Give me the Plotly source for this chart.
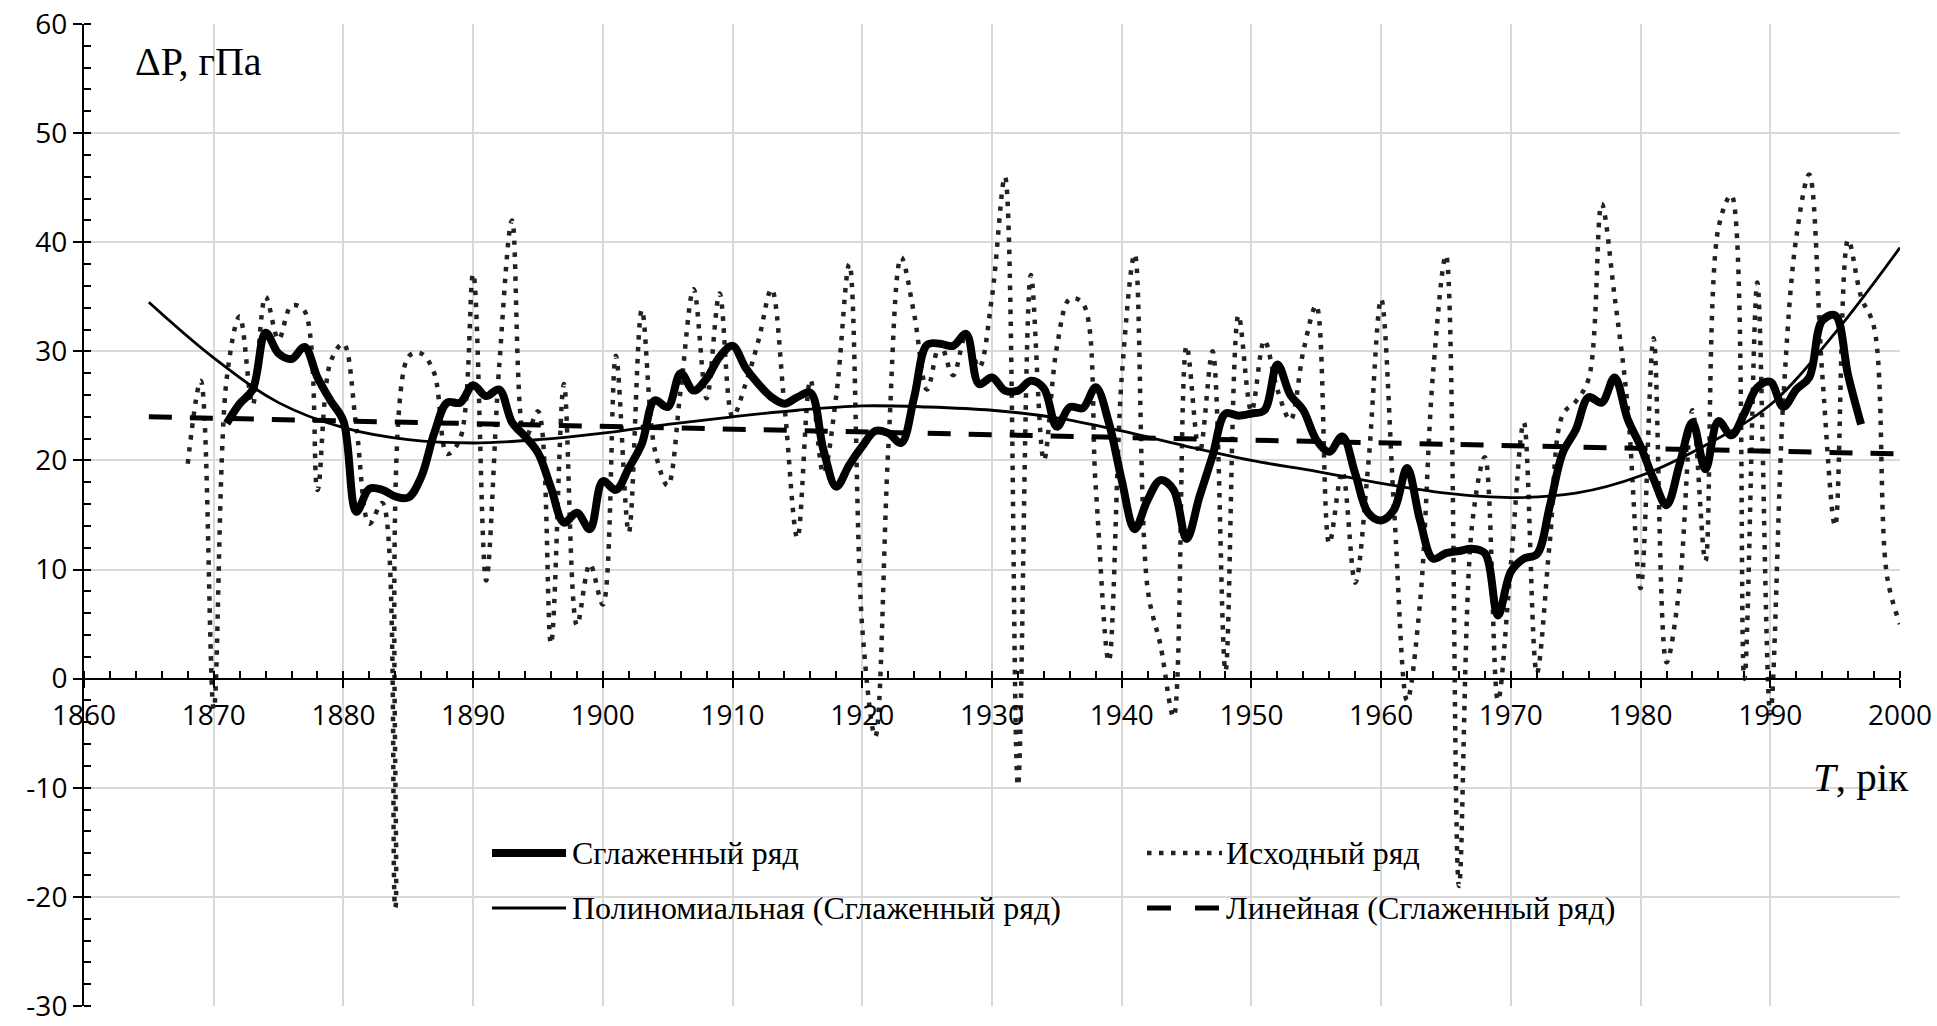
import plotly.graph_objects as go

# ---------------- data ----------------
raw_years = list(range(1868, 2001))
raw_values = [
    19.7, 27.3, -2.8, 27.5, 33.2, 25.1, 35.0, 31.1, 34.2, 33.7,   # 1868-1877
    17.3, 29.0, 30.7, 23.0, 14.2, 16.1, -21.0, 29.5, 29.8, 28.0,  # 1878-1887
    20.6, 22.0, 37.1, 9.0, 28.5, 42.0, 22.0, 24.5, 3.2, 27.0,     # 1888-1897
    4.9, 10.5, 6.8, 29.6, 13.4, 33.8, 21.0, 17.7, 26.5, 35.7,     # 1898-1907
    25.7, 35.3, 24.0, 27.0, 31.0, 35.7, 25.0, 12.9, 27.4, 18.8,   # 1908-1917
    26.0, 38.0, 4.6, -5.3, 21.0, 38.6, 33.4, 26.5, 30.7, 27.8,    # 1918-1927
    31.5, 28.5, 35.0, 46.0, -9.8, 37.0, 20.0, 30.4, 34.8, 34.4,   # 1928-1937
    17.5, 1.6, 27.6, 38.9, 8.2, 3.0, -3.5, 30.5, 20.7, 30.0,      # 1938-1947
    0.7, 33.3, 24.5, 31.0, 26.5, 23.7, 30.0, 34.2, 12.4, 19.0,    # 1948-1957
    8.8, 19.5, 34.8, 15.5, -2.0, 7.0, 28.0, 38.8, -19.0, 14.0,    # 1958-1967
    20.3, -2.0, 10.5, 23.5, 0.5, 12.5, 24.2, 25.4, 27.5, 43.5,    # 1968-1977
    35.0, 25.0, 8.3, 31.2, 1.5, 8.4, 24.6, 10.8, 41.3, 44.3,      # 1978-1987
    0.0, 36.3, -3.2, 25.5, 40.4, 46.2, 28.0, 14.0, 40.2, 35.0,    # 1988-1997
    32.2, 9.4, 5.0,                                               # 1998-2000
]

smooth_years = list(range(1871, 1998))
smooth_values = [
    23.4, 25.2, 26.5, 31.7, 29.8, 29.3, 30.4, 27.6, 25.5, 23.6,   # 1871-1880
    15.3, 17.4, 17.3, 16.7, 16.6, 18.5, 22.5, 25.3, 25.3, 26.9,   # 1881-1890
    25.9, 26.5, 23.5, 22.2, 20.7, 17.5, 14.3, 15.2, 13.7, 18.1,   # 1891-1900
    17.3, 19.3, 21.5, 25.5, 24.9, 28.0, 26.4, 27.5, 29.5, 30.5,   # 1901-1910
    28.5, 27.0, 25.8, 25.2, 25.8, 26.2, 21.0, 17.6, 19.6, 21.3,   # 1911-1920
    22.7, 22.5, 21.6, 25.8, 30.6, 30.7, 30.5, 31.6, 27.0, 27.6,   # 1921-1930
    26.4, 26.4, 27.3, 26.6, 23.1, 24.9, 24.8, 26.7, 23.5, 18.2,   # 1931-1940
    13.7, 16.4, 18.2, 17.3, 12.8, 16.7, 20.4, 24.3, 24.1, 24.3,   # 1941-1950
    24.6, 28.8, 26.0, 24.6, 21.9, 20.8, 22.2, 18.8, 15.2, 14.5,   # 1951-1960
    15.5, 19.3, 14.5, 11.0, 11.5, 11.7, 11.9, 11.5, 5.8, 9.8,     # 1961-1970
    11.0, 11.4, 15.8, 20.7, 22.8, 25.8, 25.3, 27.6, 23.8, 21.3,   # 1971-1980
    18.3, 15.9, 19.6, 23.5, 19.2, 23.6, 22.3, 24.3, 26.7, 27.2,   # 1981-1990
    24.9, 26.5, 27.6, 32.8, 33.3, 27.8, 23.3,                     # 1991-1997
]

poly_years = list(range(1865, 2001, 5))
poly_values = [
    34.5, 29.4, 25.3, 23.0, 21.9, 21.6, 21.9, 22.5, 23.3, 24.0,
    24.6, 25.0, 24.9, 24.6, 23.9, 22.7, 21.3, 20.0, 19.0, 17.9,
    17.0, 16.6, 17.0, 18.6, 21.4, 25.1, 31.7, 39.5,
]

lin_years = [1865, 2000]
lin_values = [24.0, 20.6]

x_ticks = list(range(1860, 2001, 10))
y_ticks = list(range(-30, 61, 10))
y_ticktext = [str(v) for v in y_ticks]   # plain hyphen-minus, as in the original

names = ["Сглаженный ряд", "Исходный ряд",
         "Полиномиальная (Сглаженный ряд)", "Линейная (Сглаженный ряд)"]
y_title = "ΔP, гПа"
x_title = "<i>T</i>, рік"

# ---------------- styles ----------------
W, H = 1937, 1026
L, R, T, B = 84, 37, 24, 20
SERIF = "Liberation Serif, Times New Roman, serif"
SANS = "Open Sans, Liberation Sans, sans-serif"

st_smooth = dict(color="black", width=8)
st_raw = dict(color="#222222", width=4.5, dash="4.5px,7.5px")
st_poly = dict(color="black", width=2.8)
st_lin = dict(color="black", width=5, dash="23px,18px")

fig = go.Figure()
fig.add_trace(go.Scatter(x=raw_years, y=raw_values, mode="lines", name=names[1],
                         line=dict(shape="spline", **st_raw)))
fig.add_trace(go.Scatter(x=lin_years, y=lin_values, mode="lines", name=names[3],
                         line=st_lin))
fig.add_trace(go.Scatter(x=poly_years, y=poly_values, mode="lines", name=names[2],
                         line=dict(shape="spline", **st_poly)))
fig.add_trace(go.Scatter(x=smooth_years, y=smooth_values, mode="lines", name=names[0],
                         line=dict(shape="spline", **st_smooth)))

pw, ph = W - L - R, H - T - B


def px(xp):
    return (xp - L) / pw


def py(yp):
    return (H - B - yp) / ph


# manual legend (two columns)
legend_items = [
    (names[0], st_smooth, 492, 566, 853),
    (names[1], st_raw, 1147, 1222, 853),
    (names[2], st_poly, 492, 566, 908),
    (names[3], dict(color="black", width=5, dash="24px,24px"), 1147, 1222, 908),
]
shapes = []
annotations = []
for text, st, x0, x1, yc in legend_items:
    shapes.append(dict(type="line", xref="paper", yref="paper",
                       x0=px(x0), x1=px(x1), y0=py(yc), y1=py(yc),
                       line=st))
    annotations.append(dict(text=text, xref="paper", yref="paper",
                            x=px(x1 + 2 if x0 > 1000 else x1 + 4), y=py(yc),
                            xanchor="left", yanchor="middle",
                            showarrow=False, font=dict(family=SERIF, size=32, color="black")))

annotations.append(dict(text=y_title, xref="paper", yref="paper", x=px(133), y=py(62),
                        xanchor="left", yanchor="middle", showarrow=False,
                        font=dict(family=SERIF, size=40, color="black")))
annotations.append(dict(text=x_title, xref="paper", yref="paper", x=px(1910), y=py(777),
                        xanchor="right", yanchor="middle", showarrow=False,
                        font=dict(family=SERIF, size=41, color="black")))

fig.update_layout(
    width=W, height=H,
    margin=dict(l=L, r=R, t=T, b=B, autoexpand=False),
    plot_bgcolor="white", paper_bgcolor="white",
    showlegend=False,
    shapes=shapes, annotations=annotations,
    xaxis=dict(
        range=[1860, 2000], tickvals=x_ticks,
        showgrid=True, gridcolor="#d9d9d9", gridwidth=1.5,
        showline=True, linecolor="black", linewidth=2,
        ticks="outside", ticklen=8, tickwidth=2, tickcolor="black",
        minor=dict(dtick=2, tick0=1860, ticks="inside", ticklen=7, tickwidth=2,
                   tickcolor="black", showgrid=False),
        anchor="free", position=1 / 3,
        zeroline=False, automargin=False,
        tickfont=dict(family=SANS, size=28, color="black"),
        ticklabelstandoff=4,
        ticklabeloverflow="allow",
    ),
    yaxis=dict(
        range=[-30, 60], tickvals=y_ticks, ticktext=y_ticktext,
        showgrid=True, gridcolor="#d9d9d9", gridwidth=1.5,
        showline=True, linecolor="black", linewidth=2,
        ticks="outside", ticklen=9, tickwidth=2, tickcolor="black",
        minor=dict(dtick=2, tick0=-30, ticks="inside", ticklen=7, tickwidth=2,
                   tickcolor="black", showgrid=False),
        zeroline=False, automargin=False,
        tickfont=dict(family=SANS, size=28, color="black"),
        ticklabeloverflow="allow",
    ),
)

fig.write_html("out.html")
